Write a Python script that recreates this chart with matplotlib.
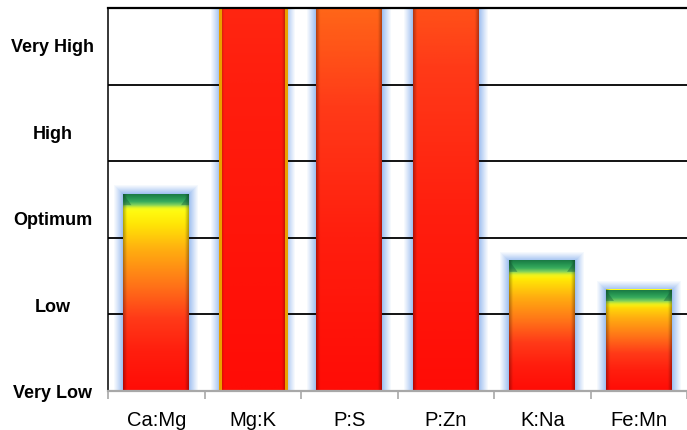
import numpy as np
import matplotlib
matplotlib.use("Agg")
import matplotlib.pyplot as plt
from matplotlib.colors import LinearSegmentedColormap, to_rgb
from matplotlib.patches import Rectangle, Polygon

# ---- data ----
categories = ["Ca:Mg", "Mg:K", "P:S", "P:Zn", "K:Na", "Fe:Mn"]
values = [2.57, 20.0, 10.0, 11.4, 1.70, 1.32]
level_labels = ["Very Low", "Low", "Optimum", "High", "Very High"]
level_positions = [0.0, 1.13, 2.26, 3.39, 4.52]
ymax = 5.0

W, H, DPI = 687, 431, 100
fig = plt.figure(figsize=(W / DPI, H / DPI), dpi=DPI)
L, B, R, T = 108 / W, 39 / H, 1.0, 422 / H
ax = fig.add_axes([L, B, R - L, T - B])
ax.set_xlim(-0.5, len(categories) - 0.5)
ax.set_ylim(0, ymax)

px_x = (len(categories)) / ((R - L) * W)   # data units per pixel (x)
px_y = ymax / ((T - B) * H)                 # data units per pixel (y)

cmap = LinearSegmentedColormap.from_list("heat", [
    (0.00, "#ff0c06"), (0.20, "#ff1e0e"), (0.37, "#ff3a18"),
    (0.54, "#ff7418"), (0.72, "#ffae10"), (0.85, "#ffe606"),
    (0.93, "#ffff12"), (1.00, "#ffff20")])

bw = 0.68
glow_px = 10
glow_edge = np.array(to_rgb("#94b8ee"))
white = np.ones(3)

for i, v in enumerate(values):
    x0, x1 = i - bw / 2, i + bw / 2
    # glow
    for k in range(glow_px, 0, -1):
        t = (k / glow_px) ** 0.9
        c = glow_edge * (1 - t) + white * t
        ax.add_patch(Rectangle((x0 - k * px_x, 0), bw + 2 * k * px_x, v + k * px_y,
                               facecolor=c, edgecolor="none", zorder=1))
    # body gradient
    ny, nx = 400, 64
    f = np.linspace(0, 1, ny)[:, None]
    rgb = cmap(np.repeat(f, nx, axis=1))[..., :3]
    cols = np.arange(nx)
    d = np.minimum(cols, nx - 1 - cols).astype(float)
    fac = 1 - 0.28 * np.clip(1 - d / 3.5, 0, 1)
    rgb = rgb * fac[None, :, None]
    ax.imshow(rgb, extent=(x0, x1, 0, v), origin="lower", aspect="auto",
              interpolation="bilinear", zorder=3)
    # cap
    if v < ymax:
        cap_h = 18 * px_y
        stops = [(0.0, "#1b7a44", 1.0), (0.18, "#23904f", 1.0), (0.42, "#38ac5e", 1.0),
                 (0.62, "#86d45c", 1.0), (0.80, "#dff22c", 0.6), (1.0, "#ffff20", 0.0)]
        ncap = 60
        tt = np.linspace(0, 1, ncap)
        pos = [s[0] for s in stops]
        crgb = np.array([to_rgb(s[1]) for s in stops])
        calp = np.array([s[2] for s in stops])
        img = np.zeros((ncap, nx, 4))
        for ch in range(3):
            img[:, :, ch] = np.interp(tt, pos, crgb[:, ch])[:, None]
        img[:, :, 3] = np.interp(tt, pos, calp)[:, None]
        img[:, :, :3] *= fac[None, :, None]
        ax.imshow(img, extent=(x0, x1, v - cap_h, v), origin="upper", aspect="auto",
                  interpolation="bilinear", zorder=4)
        bev_w, bev_h = 8 * px_x, 11 * px_y
        for xs, sgn in ((x0, 1), (x1, -1)):
            ax.add_patch(Polygon([(xs, v), (xs + sgn * bev_w, v - bev_h), (xs, v - bev_h)],
                                 closed=True, facecolor="#14603a", alpha=0.45,
                                 edgecolor="none", zorder=5))
    if i == 1:
        ax.add_patch(Rectangle((x0, 0), bw, v, facecolor="none", edgecolor="#eaa000",
                               linewidth=2.2, zorder=5))

# grid
for g in range(1, int(ymax)):
    ax.axhline(g, color="black", linewidth=1.3, zorder=2)

for s in ["right"]:
    ax.spines[s].set_visible(False)
ax.spines["top"].set_color("black")
ax.spines["top"].set_linewidth(1.6)
ax.spines["left"].set_color("black")
ax.spines["left"].set_linewidth(1.1)
ax.spines["bottom"].set_color("#a8a8a8")
ax.spines["bottom"].set_linewidth(1.6)
for s in ax.spines.values():
    s.set_zorder(6)

ax.set_xticks(range(len(categories)))
ax.set_xticklabels(categories, fontfamily="Liberation Sans", fontsize=14.5)
ax.set_xticks(np.arange(-0.5, len(categories)), minor=True)
ax.tick_params(axis="x", which="major", length=0, pad=14)
ax.tick_params(axis="x", which="minor", length=6, color="#a8a8a8", width=1.2)

ax.set_yticks(level_positions)
ax.set_yticklabels(level_labels, fontfamily="Liberation Sans", fontsize=13,
                   fontweight="bold", ha="center")
ax.tick_params(axis="y", length=0, pad=40)

fig.savefig("out.png", dpi=DPI)
